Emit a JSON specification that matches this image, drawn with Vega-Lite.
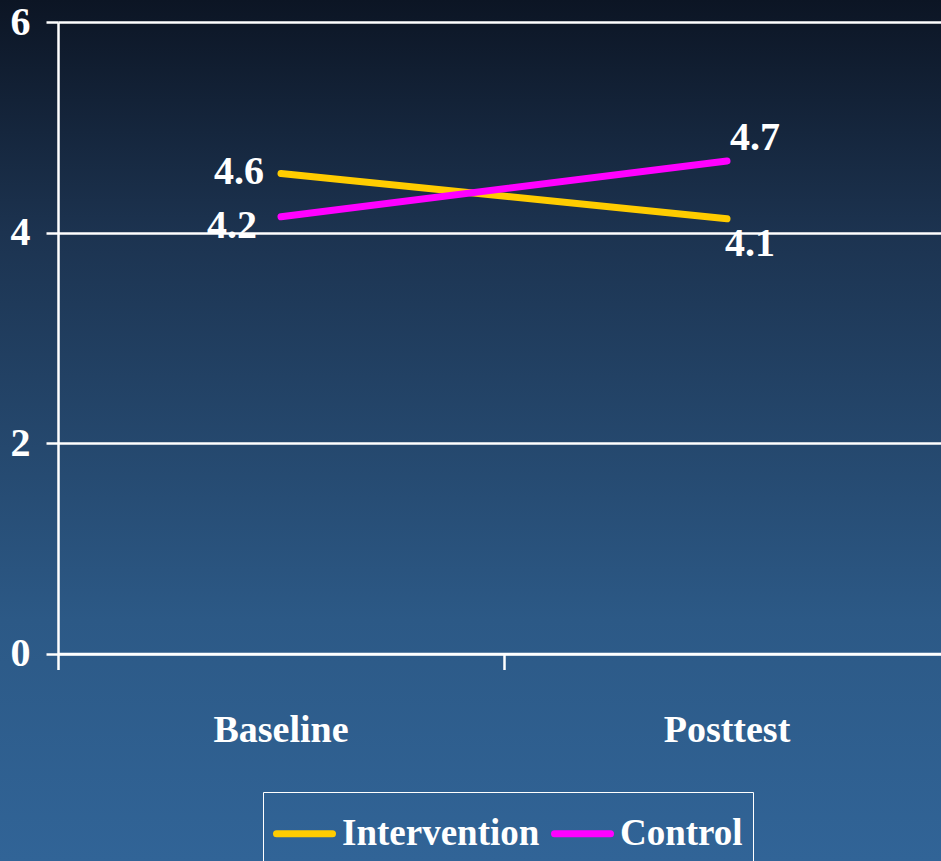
{
  "$schema": "https://vega.github.io/schema/vega-lite/v6.json",
  "width": 941,
  "height": 861,
  "autosize": {"type": "none"},
  "padding": 0,
  "background": "#1e3b5e",
  "config": {
    "view": {
      "stroke": null,
      "fill": {
        "gradient": "linear",
        "x1": 0, "y1": 0, "x2": 0, "y2": 1,
        "stops": [
          {"offset": 0, "color": "#0c1524"},
          {"offset": 0.27, "color": "#1c3350"},
          {"offset": 0.72, "color": "#2c5986"},
          {"offset": 1, "color": "#316497"}
        ]
      }
    },
    "font": "Liberation Serif"
  },
  "data": {
    "values": [
      {"series": "Intervention", "time": "Baseline", "value": 4.56, "label": "4.6"},
      {"series": "Intervention", "time": "Posttest", "value": 4.13, "label": "4.1"},
      {"series": "Control", "time": "Baseline", "value": 4.15, "label": "4.2"},
      {"series": "Control", "time": "Posttest", "value": 4.68, "label": "4.7"}
    ]
  },
  "encoding": {
    "x": {
      "field": "time",
      "type": "nominal",
      "bandPosition": 0.5,
      "scale": {"type": "band", "domain": ["Baseline", "Posttest"], "range": [58, 950], "paddingInner": 0, "paddingOuter": 0},
      "axis": {
        "orient": "bottom",
        "offset": -207.5,
        "title": null,
        "bandPosition": 0,
        "grid": false,
        "domain": true,
        "domainColor": "white",
        "domainWidth": 2.5,
        "ticks": true,
        "tickColor": "white",
        "tickWidth": 2.5,
        "tickSize": 16,
        "labelAngle": 0,
        "labelFont": "Liberation Serif",
        "labelFontWeight": "bold",
        "labelFontSize": 38,
        "labelColor": "white",
        "labelPadding": 42
      }
    },
    "y": {
      "field": "value",
      "type": "quantitative",
      "scale": {"domain": [0, 6], "range": [653.5, 22], "nice": false, "zero": false},
      "axis": {
        "orient": "left",
        "offset": -58,
        "title": null,
        "values": [0, 2, 4, 6],
        "domain": true,
        "domainColor": "white",
        "domainWidth": 2.5,
        "ticks": true,
        "tickColor": "white",
        "tickWidth": 2.5,
        "tickSize": 12,
        "grid": true,
        "gridColor": "white",
        "gridWidth": 2.5,
        "gridOpacity": 1,
        "labelFont": "Liberation Serif",
        "labelFontWeight": "bold",
        "labelFontSize": 40,
        "labelColor": "white",
        "labelPadding": 16
      }
    }
  },
  "layer": [
    {
      "mark": {"type": "line", "strokeWidth": 7, "strokeCap": "round"},
      "encoding": {
        "color": {
          "field": "series",
          "type": "nominal",
          "scale": {"domain": ["Intervention", "Control"], "range": ["#ffcc00", "#ff00ff"]},
          "legend": {
            "orient": "none",
            "legendX": 263,
            "legendY": 792,
            "direction": "horizontal",
            "title": null,
            "symbolType": "stroke",
            "symbolSize": 3136,
            "symbolStrokeWidth": 7,
            "labelFont": "Liberation Serif",
            "labelFontWeight": "bold",
            "labelFontSize": 37,
            "labelColor": "white",
            "labelLimit": 400,
            "labelOffset": 6,
            "columnPadding": 0,
            "padding": 10,
            "strokeColor": "white",
            "encode": {"symbols": {"update": {"strokeCap": {"value": "round"}}}}
          }
        }
      }
    },
    {
      "transform": [{"filter": {"and": [{"field": "series", "equal": "Intervention"}, {"field": "time", "equal": "Baseline"}]}}],
      "mark": {"type": "text", "align": "right", "baseline": "middle", "dx": -17, "dy": -2, "font": "Liberation Serif", "fontWeight": "bold", "fontSize": 40, "color": "white"},
      "encoding": {"text": {"field": "label"}}
    },
    {
      "transform": [{"filter": {"and": [{"field": "series", "equal": "Control"}, {"field": "time", "equal": "Baseline"}]}}],
      "mark": {"type": "text", "align": "right", "baseline": "middle", "dx": -24, "dy": 9, "font": "Liberation Serif", "fontWeight": "bold", "fontSize": 40, "color": "white"},
      "encoding": {"text": {"field": "label"}}
    },
    {
      "transform": [{"filter": {"and": [{"field": "series", "equal": "Control"}, {"field": "time", "equal": "Posttest"}]}}],
      "mark": {"type": "text", "align": "left", "baseline": "middle", "dx": 3, "dy": -23, "font": "Liberation Serif", "fontWeight": "bold", "fontSize": 40, "color": "white"},
      "encoding": {"text": {"field": "label"}}
    },
    {
      "transform": [{"filter": {"and": [{"field": "series", "equal": "Intervention"}, {"field": "time", "equal": "Posttest"}]}}],
      "mark": {"type": "text", "align": "left", "baseline": "middle", "dx": -2, "dy": 25, "font": "Liberation Serif", "fontWeight": "bold", "fontSize": 40, "color": "white"},
      "encoding": {"text": {"field": "label"}}
    }
  ]
}
